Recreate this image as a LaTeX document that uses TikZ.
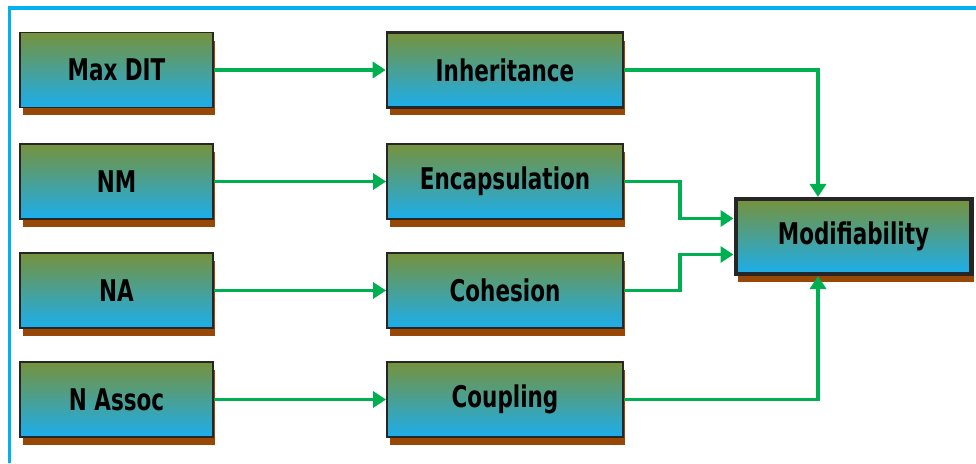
\documentclass[tikz,border=0pt]{standalone}
\usepackage{fontspec}
\setmainfont{DejaVu Sans}[FakeStretch=0.72]
\usepackage{tikz}
\usetikzlibrary{arrows.meta,shadows}
\definecolor{boxtop}{RGB}{118,146,60}
\definecolor{boxbottom}{RGB}{28,174,236}
\definecolor{shadowbrown}{RGB}{152,72,6}
\definecolor{linkgreen}{RGB}{0,176,80}
\definecolor{framecyan}{RGB}{0,176,240}

\begin{document}
\begin{tikzpicture}[x=0.02cm, y=-0.02cm,
  metric/.style={draw=black!85, line width=0.7pt, top color=boxtop, bottom color=boxbottom,
    minimum width=3.86cm, minimum height=1.5cm, font=\fontsize{17}{20}\selectfont\bfseries,
    drop shadow={shadow xshift=0.05cm, shadow yshift=-0.16cm, fill=shadowbrown, opacity=1}},
  attribute/.style={metric, line width=1.1pt, minimum width=4.72cm},
  quality/.style={metric, line width=2.3pt, minimum width=4.72cm},
  link/.style={linkgreen, line width=2pt, -{Triangle[length=0.26cm, width=0.32cm]}}]
  \useasboundingbox (0,0) rectangle (976,463);
  \draw[framecyan, line width=0.07cm] (9.5,463) -- (9.5,8) -- (976,8);

  \node[metric] (maxdit) at (116.5,70) {Max DIT};
  \node[metric] (nm) at (116.5,181.5) {NM};
  \node[metric] (na) at (116.5,290.5) {NA};
  \node[metric] (nassoc) at (116.5,399.5) {N Assoc};
  \node[attribute, line width=1.5pt] (inherit) at (505,70) {Inheritance};
  \node[attribute] (encap) at (505,181.5) {Encapsulation};
  \node[attribute] (cohes) at (505,290.5) {Cohesion};
  \node[attribute] (coupl) at (505,399.5) {Coupling};
  \node[quality] (modif) at (853.5,236.5) {Modifiability};

  \draw[link] (maxdit) -- (inherit);
  \draw[link] (nm) -- (encap);
  \draw[link] (na) -- (cohes);
  \draw[link] (nassoc) -- (coupl);
  \draw[link] (inherit.east) -| ([xshift=-0.71cm]modif.north);
  \draw[link] (encap.east) -- ++(56,0) |- ([yshift=0.36cm]modif.west);
  \draw[link] (cohes.east) -- ++(56,0) |- ([yshift=-0.36cm]modif.west);
  \draw[link] (coupl.east) -| ([xshift=-0.71cm]modif.south);
\end{tikzpicture}
\end{document}
